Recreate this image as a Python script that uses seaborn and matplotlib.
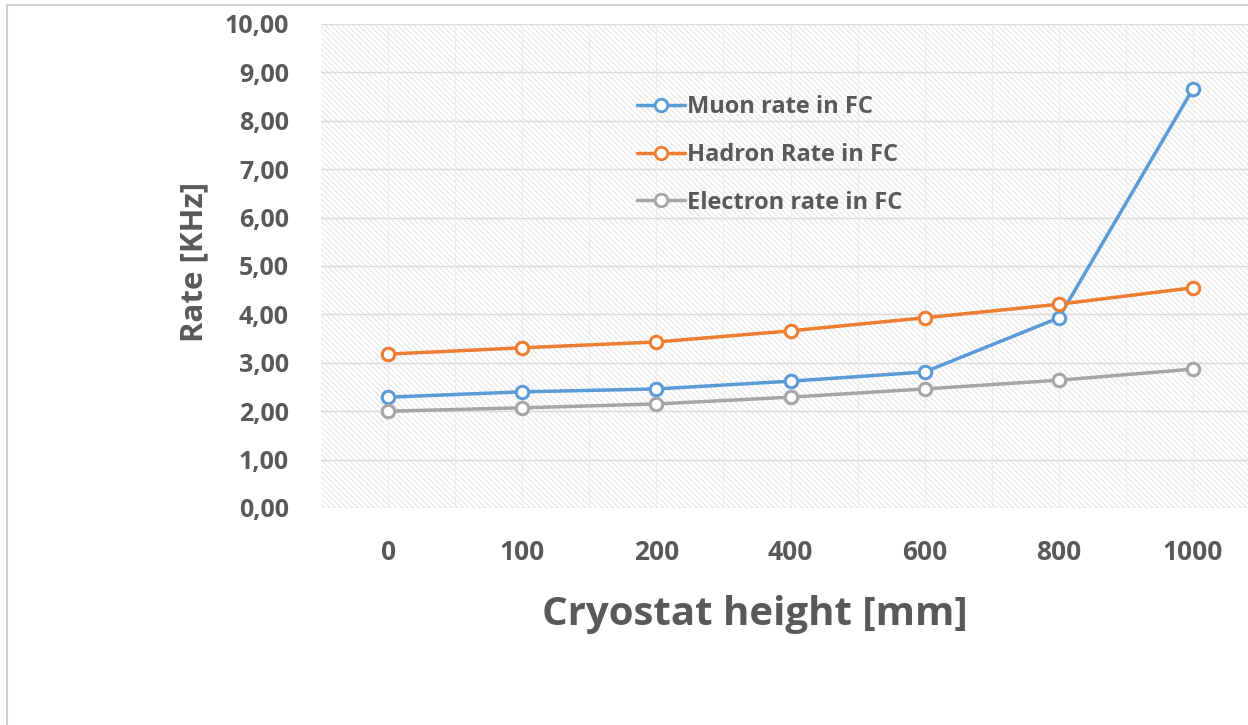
import matplotlib
matplotlib.use("Agg")
import matplotlib.pyplot as plt
import seaborn as sns
import pandas as pd
from matplotlib.patches import Rectangle

heights = ["0", "100", "200", "400", "600", "800", "1000"]
muon = [2.29, 2.40, 2.46, 2.62, 2.81, 3.93, 8.66]
hadron = [3.18, 3.31, 3.43, 3.66, 3.93, 4.21, 4.55]
electron = [2.00, 2.07, 2.15, 2.29, 2.46, 2.64, 2.87]
series_names = ["Muon rate in FC", "Hadron Rate in FC", "Electron rate in FC"]
colors = ["#5B9BD5", "#ED7D31", "#A5A5A5"]
yticks = [0, 1, 2, 3, 4, 5, 6, 7, 8, 9, 10]

df = pd.DataFrame({
    "height": heights * 3,
    "rate": muon + hadron + electron,
    "series": [series_names[0]] * 7 + [series_names[1]] * 7 + [series_names[2]] * 7,
})

sns.set_theme(style="white")
plt.rcParams["font.family"] = ["Open Sans", "DejaVu Sans"]
plt.rcParams["hatch.linewidth"] = 0.7
txt = "#595959"

fig = plt.figure(figsize=(12.48, 7.25), dpi=100)
W, H = 1248, 725
ax = fig.add_axes([321 / W, 1 - 508 / H, (1260 - 321) / W, (508 - 24) / H])

# figure border
fig.patches.append(Rectangle((7 / W, -0.1), 1.2, 1 - 5 / H + 0.1, transform=fig.transFigure,
                             fill=False, edgecolor="#D0D0D0", linewidth=1.5, zorder=0))

# hatched plot area
ax.patch.set_facecolor("white")
ax.add_patch(Rectangle((0, 0), 1, 1, transform=ax.transAxes, facecolor="white",
                       edgecolor="#E2E2E2", hatch="\\\\\\\\\\\\", linewidth=0, zorder=0))

sns.lineplot(data=df, x="height", y="rate", hue="series", hue_order=series_names,
             palette=colors, marker="o", markersize=9, markerfacecolor="white",
             markeredgewidth=2.2, linewidth=2.5, ax=ax, sort=False, zorder=5)
for line, c in zip(ax.lines, colors):
    line.set_markeredgecolor(c)

ax.set_xlim(-0.5, 6.5)
ax.set_ylim(0, 10)
ax.set_yticks(yticks)
ax.set_yticklabels([f"{v:.2f}".replace(".", ",") for v in yticks])
for v in yticks:
    ax.axhline(v, color="#DADADA", linewidth=1.0, zorder=1)
for i in range(7):
    ax.axvline(i, color="#EBEBEB", linewidth=0.7, zorder=1)
    ax.axvline(i + 0.5, color="#EBEBEB", linewidth=0.7, zorder=1)

for s in ax.spines.values():
    s.set_visible(False)
ax.tick_params(axis="both", length=0, colors=txt, labelsize=19)
ax.tick_params(axis="y", labelsize=18, pad=23)
ax.tick_params(axis="x", pad=22)
for lab in ax.get_xticklabels() + ax.get_yticklabels():
    lab.set_fontweight("bold")

ax.set_xlabel("")
ax.set_ylabel("Rate [KHz]", fontsize=22.5, fontweight="bold", color=txt)
ax.yaxis.set_label_coords((209 - 321) / (1260 - 321), (508 - 262) / 484)
fig.text(755 / W, 1 - 614 / H, "Cryostat height [mm]", fontsize=29, fontweight="bold",
         color=txt, ha="center", va="center")

handles, labels = ax.get_legend_handles_labels()
leg = ax.legend(handles, labels, loc="upper left",
                bbox_to_anchor=((628 - 321) / (1260 - 321), (508 - 86) / 484),
                frameon=False, fontsize=17, handlelength=2.0, handletextpad=0.1,
                labelspacing=1.0, borderaxespad=0)
for t in leg.get_texts():
    t.set_color(txt)
    t.set_fontweight("bold")
for lh, c in zip(leg.get_lines(), colors):
    lh.set_markerfacecolor("white")
    lh.set_markeredgecolor(c)
    lh.set_markersize(9)
    lh.set_markeredgewidth(2)

fig.savefig("out.png", dpi=100)
